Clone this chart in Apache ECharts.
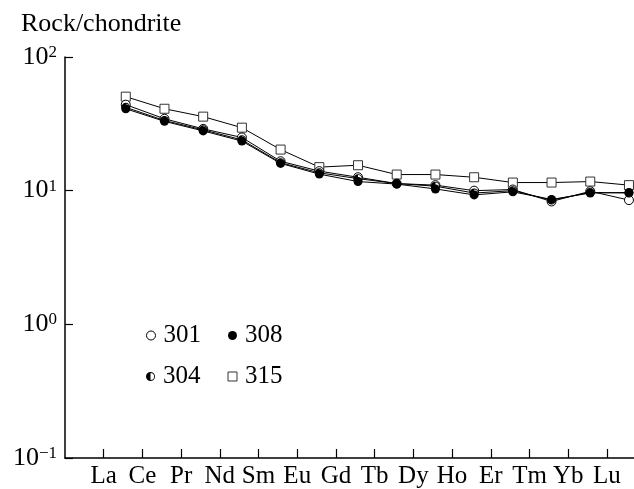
<!DOCTYPE html>
<html>
<head>
<meta charset="utf-8">
<script src="https://cdn.jsdelivr.net/npm/echarts@6/dist/echarts.min.js"></script>
<style>
  html, body { margin: 0; padding: 0; background: #fff; }
  #chart { width: 634px; height: 489px; }
</style>
</head>
<body>
<div id="chart"></div>
<script>
// REE names along the x axis
const elements = ['La', 'Ce', 'Pr', 'Nd', 'Sm', 'Eu', 'Gd', 'Tb', 'Dy', 'Ho', 'Er', 'Tm', 'Yb', 'Lu']

// rock / chondrite values
const s301 = [44, 34.5, 29, 25, 16.6, 14, 12.6, 11.3, 11.0, 10.0, 10.2, 8.3, 9.9, 8.5]
const s304 = [42, 33.5, 28.5, 24, 16.2, 13.6, 12.3, 11.3, 10.8, 9.6, 10.0, 8.5, 9.7, 9.6]
const s308 = [41, 33, 28, 23.5, 16, 13.3, 11.7, 11.2, 10.3, 9.3, 9.8, 8.6, 9.6, 9.7]
const s315 = [50.5, 41, 35.8, 29.6, 20.3, 15.0, 15.5, 13.2, 13.2, 12.6, 11.5, 11.5, 11.7, 11.0]

const yTicks = [0.1, 1, 10, 100]

// points sit between the element ticks in the original
const shift = 0.57
const font = 'Liberation Serif'
const halfDot = 'path://M0,10A10,10 0 1,1 20,10A10,10 0 1,1 0,10ZM2,10A8,8 0 1,0 18,10A8,8 0 1,0 2,10ZM10,2A8,8 0 0,0 10,18Z'

function pts(arr) {
  return arr.map((v, i) => [i + 1 + shift, v])
}

function sup(value) {
  const e = Math.round(Math.log10(value))
  const s = e < 0 ? '\u2212' + (-e) : String(e)
  return '{b|10}{s|' + s + '}'
}

const chart = echarts.init(document.getElementById('chart'))

const lineBase = {
  type: 'line',
  symbolSize: 9,
  lineStyle: { color: '#000', width: 1 },
  emphasis: { disabled: true },
  animation: false
}

const legendBase = {
  left: 146,
  orient: 'horizontal',
  padding: 0,
  itemWidth: 9,
  itemHeight: 9,
  itemGap: 27,
  selectedMode: false,
  textStyle: { fontFamily: font, fontSize: 25, color: '#000', lineHeight: 25, padding: [0, 0, 0, 3] }
}

let option = {
  backgroundColor: '#fff',
  title: {
    text: 'Rock/chondrite',
    left: 21,
    top: 11,
    padding: 0,
    textStyle: { fontFamily: font, fontSize: 26, fontWeight: 'normal', color: '#000' }
  },
  grid: { left: 65, top: 57, width: 569, height: 403, containLabel: false },
  legend: [
    Object.assign({}, legendBase, {
      top: 323,
      data: [
        { name: '301', icon: 'circle', itemStyle: { color: '#fff', borderColor: '#000', borderWidth: 1 } },
        { name: '308', icon: 'circle', itemStyle: { color: '#000', borderWidth: 0 } }
      ]
    }),
    Object.assign({}, legendBase, {
      top: 364,
      data: [
        { name: '304', icon: halfDot, itemStyle: { color: '#000', borderWidth: 0 } },
        { name: '315', icon: 'rect', itemStyle: { color: '#fff', borderColor: '#333', borderWidth: 1 } }
      ]
    })
  ],
  xAxis: {
    type: 'value',
    min: 0,
    max: 14.7,
    axisLine: { lineStyle: { color: '#000', width: 1.5 } },
    axisTick: {
      inside: true,
      length: 9,
      customValues: elements.map((e, i) => i + 1),
      lineStyle: { color: '#000', width: 1.2 }
    },
    axisLabel: {
      customValues: elements.map((e, i) => i + 1),
      formatter: v => elements[Math.round(v) - 1] || '',
      fontFamily: font,
      fontSize: 25,
      color: '#000',
      margin: 6
    },
    splitLine: { show: false }
  },
  yAxis: {
    type: 'log',
    logBase: 10,
    min: yTicks[0],
    max: yTicks[yTicks.length - 1],
    axisLine: { show: true, lineStyle: { color: '#000', width: 1.5 } },
    axisTick: { show: true, inside: true, length: 8, lineStyle: { color: '#000', width: 1.2 } },
    axisLabel: {
      formatter: sup,
      margin: 8,
      rich: {
        b: { fontFamily: font, fontSize: 26, lineHeight: 26, color: '#000' },
        s: { fontFamily: font, fontSize: 17, lineHeight: 11, verticalAlign: 'top', color: '#000' }
      }
    },
    splitLine: { show: false }
  },
  series: [
    Object.assign({}, lineBase, {
      name: '315',
      data: pts(s315),
      symbol: 'rect',
      itemStyle: { color: '#fff', borderColor: '#333', borderWidth: 1 }
    }),
    Object.assign({}, lineBase, {
      name: '301',
      data: pts(s301),
      symbol: 'circle',
      itemStyle: { color: '#fff', borderColor: '#000', borderWidth: 1 }
    }),
    Object.assign({}, lineBase, {
      name: '304',
      data: pts(s304),
      symbol: halfDot,
      itemStyle: { color: '#000', borderWidth: 0 }
    }),
    Object.assign({}, lineBase, {
      name: '308',
      data: pts(s308),
      symbol: 'circle',
      itemStyle: { color: '#000', borderColor: '#000', borderWidth: 0 }
    })
  ]
}

chart.setOption(option)
</script>
</body>
</html>
